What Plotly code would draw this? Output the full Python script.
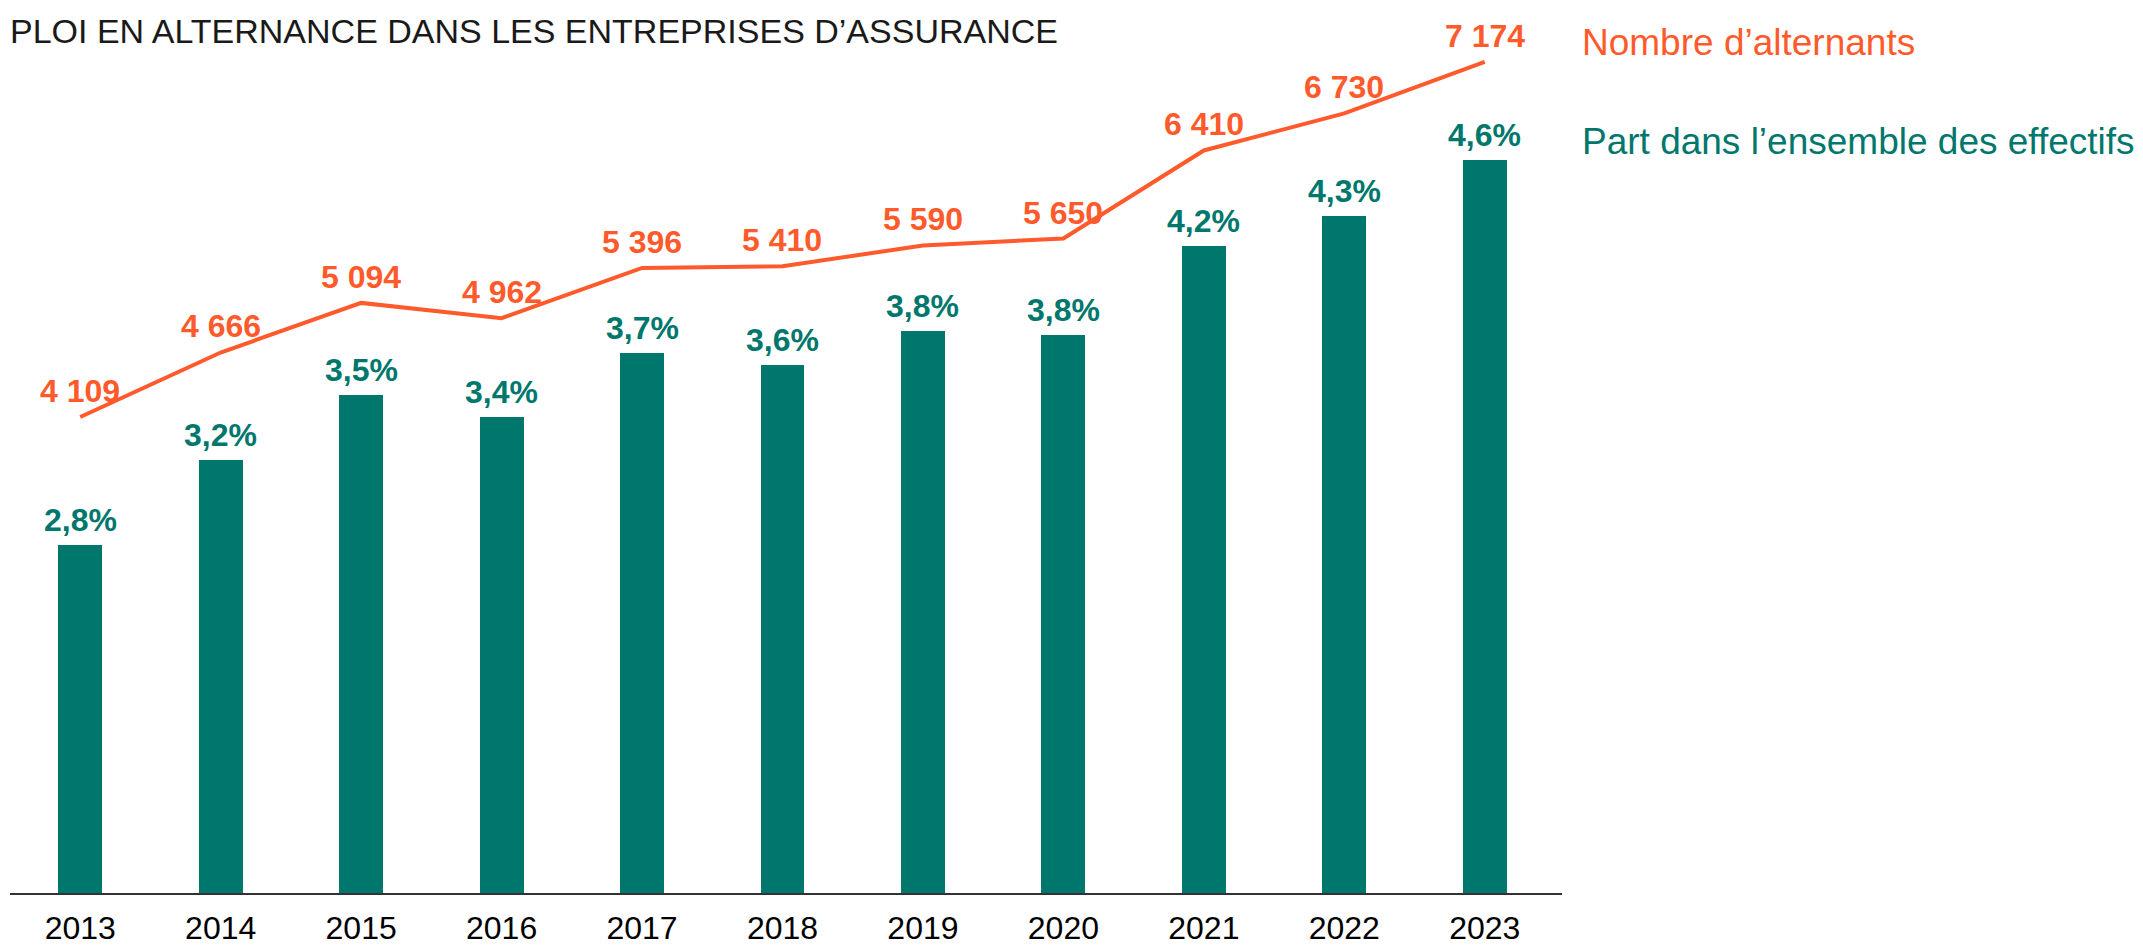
import plotly.graph_objects as go

annees = ["2013", "2014", "2015", "2016", "2017", "2018", "2019", "2020", "2021", "2022", "2023"]
nb_alternants = [4109, 4666, 5094, 4962, 5396, 5410, 5590, 5650, 6410, 6730, 7174]
part_effectifs = [2.8, 3.2, 3.5, 3.4, 3.7, 3.64, 3.8, 3.78, 4.2, 4.34, 4.6]

ORANGE = "#FF5A2B"
TEAL = "#00776D"
FONT = "Liberation Sans, Arial, sans-serif"

# the page body adds an 8px margin, so the figure is drawn 8px smaller
OFF = 8
W_FIG, H_FIG = 2143 - OFF, 950 - OFF
L, T = 10.4 - OFF, 10 - OFF
W, H = 1551.4, 882.7


def px_x(p):
    # p: pixel position in the window
    return (p - OFF - L) / W


def px_y(p):
    return (T + H - (p - OFF)) / H


x = list(range(len(annees)))

fig = go.Figure()
fig.add_trace(go.Bar(
    x=x, y=part_effectifs, width=0.313,
    marker=dict(color=TEAL, line=dict(width=0)),
    yaxis="y", showlegend=False, hoverinfo="skip",
))
fig.add_trace(go.Scatter(
    x=x, y=nb_alternants, mode="lines",
    line=dict(color=ORANGE, width=4),
    yaxis="y2", showlegend=False, hoverinfo="skip",
))

annotations = []
for i, v in enumerate(part_effectifs):
    annotations.append(dict(
        x=i, y=v, xref="x", yref="y", text=f"{v:.1f}%".replace(".", ","),
        showarrow=False, yanchor="bottom", yshift=5,
        font=dict(family=FONT, size=32, color=TEAL, weight="bold"),
    ))
for i, v in enumerate(nb_alternants):
    annotations.append(dict(
        x=i, y=v, xref="x", yref="y2", text=f"{v:,}".replace(",", " "),
        showarrow=False, yanchor="bottom", yshift=6,
        font=dict(family=FONT, size=32, color=ORANGE, weight="bold"),
    ))

# titre (début coupé dans l'original)
annotations.append(dict(
    x=px_x(OFF), y=px_y(31), xref="paper", yref="paper", xanchor="left", yanchor="middle",
    text="PLOI EN ALTERNANCE DANS LES ENTREPRISES D’ASSURANCE",
    showarrow=False, font=dict(family=FONT, size=34, color="#1a1a1a"),
))
# légende texte
annotations.append(dict(
    x=px_x(1580), y=px_y(42), xref="paper", yref="paper", xanchor="left", yanchor="middle",
    text="Nombre d’alternants", showarrow=False,
    font=dict(family=FONT, size=37, color=ORANGE),
))
annotations.append(dict(
    x=px_x(1580), y=px_y(141), xref="paper", yref="paper", xanchor="left", yanchor="middle",
    text="Part dans l’ensemble des effectifs", showarrow=False,
    font=dict(family=FONT, size=37, color=TEAL),
))

fig.update_layout(
    width=W_FIG, height=H_FIG,
    margin=dict(l=L, r=W_FIG - L - W, t=T, b=H_FIG - T - H, pad=0),
    paper_bgcolor="white", plot_bgcolor="white",
    xaxis=dict(
        range=[-0.5, 10.55], tickmode="array", tickvals=x, ticktext=annees,
        showgrid=False, zeroline=False, showline=True, linecolor="#333333", linewidth=2,
        ticks="", ticklabelstandoff=6, automargin=False,
        tickfont=dict(family=FONT, size=32, color="black"),
    ),
    yaxis=dict(range=[1.1745, 1.1745 + H / 213.9], visible=False),
    yaxis2=dict(range=[0, H / 0.1158], overlaying="y", visible=False),
    annotations=annotations,
    bargap=0,
)

fig.write_html("out.html")
